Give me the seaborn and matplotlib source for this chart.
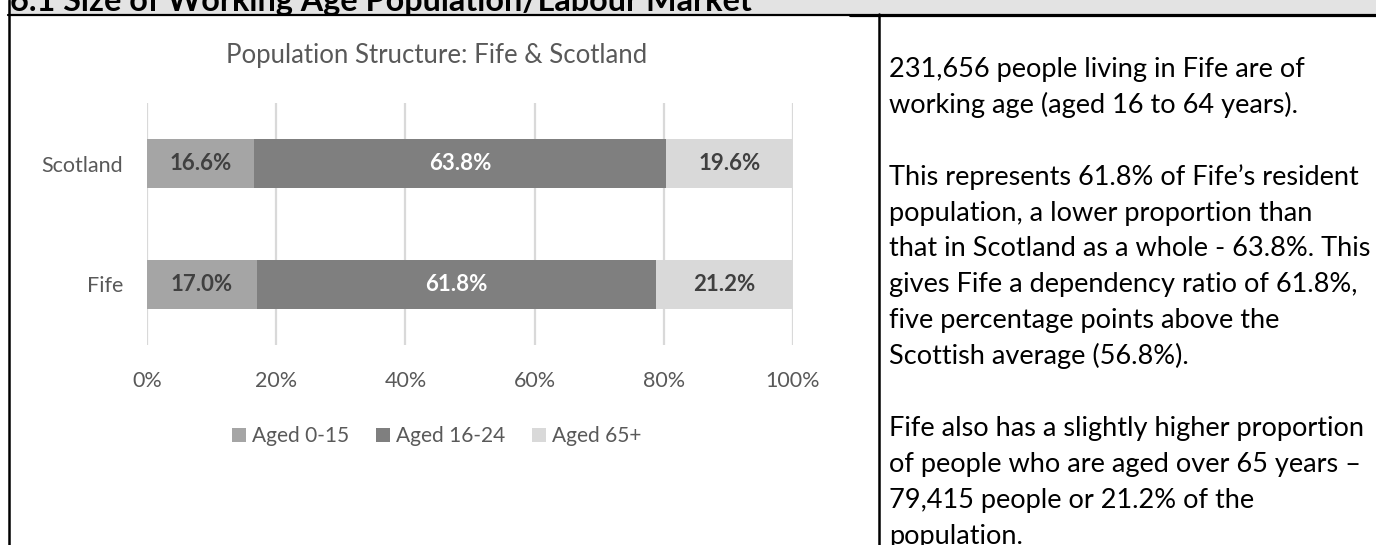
import matplotlib
matplotlib.use("Agg")
import matplotlib.pyplot as plt
from matplotlib.patches import Rectangle, Patch
from matplotlib.lines import Line2D
import seaborn as sns
import pandas as pd

# ---- data -------------------------------------------------------------
regions = ["Scotland", "Fife"]
aged_0_15 = [16.6, 17.0]
aged_16_24 = [63.8, 61.8]
aged_65_plus = [19.6, 21.2]
series_names = ["Aged 0-15", "Aged 16-24", "Aged 65+"]
series_colors = ["#a5a5a5", "#7f7f7f", "#d9d9d9"]
label_colors = ["#404040", "#ffffff", "#404040"]
x_ticks = [0, 20, 40, 60, 80, 100]
x_tick_labels = ["0%", "20%", "40%", "60%", "80%", "100%"]
chart_title = "Population Structure: Fife & Scotland"
section_heading = "6.1 Size of Working Age Population/Labour Market"
commentary = [
    "231,656 people living in Fife are of",
    "working age (aged 16 to 64 years).",
    "",
    "This represents 61.8% of Fife\u2019s resident",
    "population, a lower proportion than",
    "that in Scotland as a whole - 63.8%. This",
    "gives Fife a dependency ratio of 61.8%,",
    "five percentage points above the",
    "Scottish average (56.8%).",
    "",
    "Fife also has a slightly higher proportion",
    "of people who are aged over 65 years \u2013",
    "79,415 people or 21.2% of the",
    "population.",
]

# ---- figure -----------------------------------------------------------
W, H = 1376, 545
sns.set_theme(style="white")
plt.rcParams["font.family"] = ["Lato", "DejaVu Sans"]

fig = plt.figure(figsize=(W / 100, H / 100), dpi=100)
fig.patch.set_facecolor("white")


def fx(px):
    return px / W


def fy(py):
    return 1 - py / H


# chart axes
ax = fig.add_axes([fx(147), fy(345), fx(793) - fx(147), fy(103) - fy(345)])

df = pd.DataFrame({
    "region": regions,
    series_names[0]: aged_0_15,
    series_names[1]: aged_16_24,
    series_names[2]: aged_65_plus,
})
starts = df[series_names].cumsum(axis=1) - df[series_names]
ends = df[series_names].cumsum(axis=1)

# stacked bars: draw cumulative totals from the outermost segment inwards
for name, color in reversed(list(zip(series_names, series_colors))):
    sns.barplot(x=ends[name], y=df["region"], color=color, saturation=1,
                width=0.4, orient="h", linewidth=0, ax=ax, zorder=2)

# value labels centred in each segment
for name, lc in zip(series_names, label_colors):
    for j in range(len(df)):
        val = df.loc[j, name]
        ax.text(starts.loc[j, name] + val / 2, j, f"{val:.1f}%",
                ha="center", va="center", fontsize=16, fontweight="bold",
                color=lc, zorder=3)

ax.set_xlim(0, 100)
ax.set_ylim(1.5, -0.5)
ax.set_xticks(x_ticks)
ax.set_xticklabels(x_tick_labels)
ax.grid(axis="x", color="#d9d9d9", linewidth=1.6, zorder=0)
ax.grid(axis="y", visible=False)
ax.set_axisbelow(True)
for s in ax.spines.values():
    s.set_visible(False)
ax.set_xlabel("")
ax.set_ylabel("")
ax.tick_params(axis="both", length=0, labelsize=15.5, labelcolor="#595959")
ax.tick_params(axis="y", pad=17)
ax.tick_params(axis="x", pad=18.5)

# title and legend
fig.text(fx(437), fy(55), chart_title, ha="center", va="center",
         fontsize=18.5, color="#595959")
handles = [Patch(facecolor=c, edgecolor="none", label=n)
           for n, c in zip(series_names, series_colors)]
fig.legend(handles=handles, loc="center", bbox_to_anchor=(fx(437), fy(436)),
           ncol=3, frameon=False, fontsize=15, labelcolor="#595959",
           handlelength=0.65, handleheight=0.65, handletextpad=0.3,
           columnspacing=1.3)

# commentary column
for i, line in enumerate(commentary):
    if line:
        fig.text(fx(889), fy(70 + i * 35.9 + 7), line, ha="left",
                 va="baseline", fontsize=19.5, color="#000000")

# section heading band and table rules
fig.add_artist(Rectangle((fx(9), fy(14)), 1 - fx(9), fy(0) - fy(14),
                         transform=fig.transFigure, facecolor="#e3e3e3",
                         edgecolor="none", zorder=0))
fig.text(fx(10), fy(10.5), section_heading, ha="left", va="baseline",
         fontsize=23.3, fontweight="bold", color="#000000")
fig.add_artist(Line2D([fx(8), fx(850)], [fy(14.5), fy(14.5)],
                      transform=fig.transFigure, color="black", lw=1.6))
fig.add_artist(Line2D([fx(850), 1], [fy(15), fy(15)],
                      transform=fig.transFigure, color="black", lw=2.3))
fig.add_artist(Line2D([fx(8.5), fx(8.5)], [0, 1],
                      transform=fig.transFigure, color="black", lw=1.8))
fig.add_artist(Line2D([fx(878.5), fx(878.5)], [0, fy(14)],
                      transform=fig.transFigure, color="black", lw=1.8))

fig.savefig("out.png", dpi=100, facecolor="white")
